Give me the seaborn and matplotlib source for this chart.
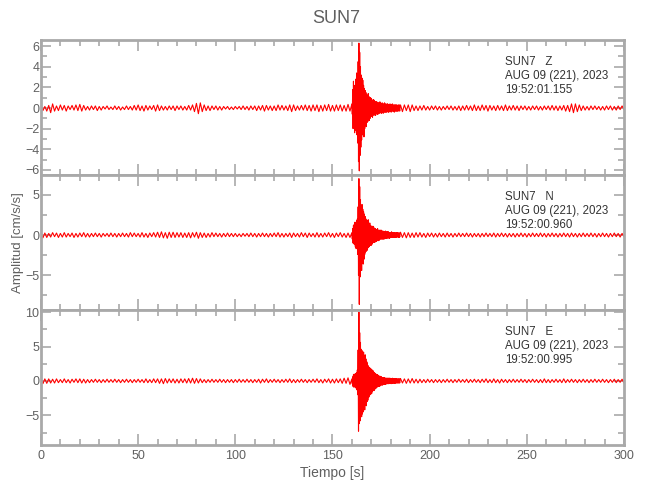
import numpy as np
import pandas as pd
import seaborn as sns
import matplotlib.pyplot as plt
from matplotlib.ticker import MultipleLocator
import matplotlib.transforms as mtransforms

# --------------------------------------------------------------------------- #
# Data: amplitudes [cm/s/s]
# quiet part sampled every 1 s, the event (160-185 s) every 0.2 s
t_pre = np.arange(0, 160, 1.0)
t_evt = np.arange(160, 185, 0.2)
t_post = np.arange(185, 301, 1.0)

z_pre = [0.2, -0.25, 0.15, -0.3, 0.25, -0.45, 0.4, -0.3, 0.2, -0.25, 0.3, -0.2, 0.25, -0.3, 0.2, -0.15, 0.25, -0.2, 0.3, -0.25,
         0.35, -0.3, 0.25, -0.2, 0.15, -0.2, 0.2, -0.15, 0.2, -0.25, 0.15, -0.2, 0.15, -0.1, 0.2, -0.15, 0.1, -0.15, 0.2, -0.15,
         0.15, -0.2, 0.1, -0.15, 0.2, -0.15, 0.15, -0.2, 0.25, -0.2, 0.3, -0.25, 0.2, -0.3, 0.25, -0.2, 0.2, -0.15, 0.25, -0.3,
         0.3, -0.25, 0.2, -0.2, 0.15, -0.2, 0.2, -0.15, 0.2, -0.25, 0.2, -0.15, 0.2, -0.2, 0.15, -0.2, 0.25, -0.2, 0.3, -0.35,
         0.45, -0.55, 0.5, -0.35, 0.3, -0.25, 0.2, -0.25, 0.2, -0.15, 0.2, -0.2, 0.15, -0.2, 0.15, -0.1, 0.15, -0.15, 0.1, -0.15,
         0.15, -0.1, 0.15, -0.15, 0.2, -0.15, 0.15, -0.2, 0.2, -0.15, 0.2, -0.25, 0.2, -0.2, 0.25, -0.3, 0.25, -0.2, 0.2, -0.25,
         0.2, -0.25, 0.3, -0.2, 0.25, -0.2, 0.2, -0.25, 0.3, -0.35, 0.3, -0.25, 0.2, -0.2, 0.25, -0.2, 0.3, -0.25, 0.25, -0.3,
         0.3, -0.25, 0.3, -0.35, 0.25, -0.3, 0.3, -0.25, 0.35, -0.3, 0.25, -0.3, 0.3, -0.25, 0.3, -0.3, 0.25, -0.3, 0.35, -0.3]
z_evt = [0.4, -0.6, 1.8, -2.0, 2.6, -1.8, 2.2, -2.4, 1.6, -2.0, 2.8, -2.2, 3.4, -2.6, 3.0,
         -3.4, 4.5, -5.2, 6.3, -6.1, 5.4, -4.6, 4.0, -3.8, 3.2, -3.1, 2.9, -2.6, 2.7, -2.4,
         2.2, -2.8, 1.9, -2.0, 1.7, -1.6, 1.5, -1.8, 1.3, -1.4, 1.2, -1.3, 1.4, -1.0, 1.1,
         -1.2, 0.9, -1.0, 1.0, -0.8, 0.9, -0.8, 0.7, -0.9, 0.8, -0.7, 0.8, -0.6, 0.7, -0.7,
         0.6, -0.7, 0.6, -0.5, 0.6, -0.6, 0.5, -0.6, 0.5, -0.5, 0.5, -0.5, 0.6, -0.4, 0.5,
         -0.5, 0.4, -0.5, 0.5, -0.4, 0.4, -0.5, 0.4, -0.4, 0.5, -0.4, 0.4, -0.4, 0.3, -0.4,
         0.4, -0.3, 0.4, -0.4, 0.3, -0.4, 0.3, -0.3, 0.4, -0.3, 0.3, -0.4, 0.3, -0.3, 0.4,
         -0.3, 0.3, -0.3, 0.3, -0.4, 0.3, -0.3, 0.3, -0.3, 0.3, -0.3, 0.3, -0.3, 0.25, -0.3,
         0.3, -0.25, 0.3, -0.3, 0.25]
z_post = [0.3, -0.35, 0.3, -0.25, 0.3, -0.35, 0.3, -0.25, 0.2, -0.25, 0.2, -0.2, 0.25, -0.2, 0.15, -0.2, 0.2, -0.15, 0.2, -0.2,
          0.15, -0.2, 0.15, -0.15, 0.2, -0.15, 0.2, -0.2, 0.15, -0.2, 0.2, -0.25, 0.2, -0.2, 0.25, -0.2, 0.2, -0.25, 0.3, -0.25,
          0.2, -0.25, 0.3, -0.2, 0.25, -0.3, 0.25, -0.2, 0.2, -0.25, 0.25, -0.2, 0.2, -0.25, 0.3, -0.25, 0.2, -0.2, 0.25, -0.2,
          0.2, -0.25, 0.2, -0.15, 0.2, -0.2, 0.15, -0.2, 0.2, -0.15, 0.2, -0.2, 0.15, -0.2, 0.2, -0.15, 0.2, -0.2, 0.25, -0.2,
          0.2, -0.25, 0.2, -0.2, 0.25, -0.3, 0.25, -0.35, 0.4, -0.45, 0.4, -0.35, 0.3, -0.25, 0.2, -0.2, 0.15, -0.2, 0.2, -0.15,
          0.2, -0.15, 0.15, -0.2, 0.15, -0.2, 0.2, -0.15, 0.2, -0.2, 0.15, -0.2, 0.2, -0.15, 0.2, -0.15]

n_pre = [0.3, -0.35, 0.25, -0.3, 0.2, -0.25, 0.3, -0.2, 0.25, -0.3, 0.2, -0.25, 0.3, -0.25, 0.2, -0.2, 0.25, -0.3, 0.2, -0.25,
         0.25, -0.2, 0.3, -0.25, 0.2, -0.25, 0.2, -0.2, 0.25, -0.2, 0.2, -0.25, 0.2, -0.15, 0.2, -0.2, 0.25, -0.2, 0.2, -0.25,
         0.2, -0.2, 0.25, -0.2, 0.2, -0.25, 0.3, -0.2, 0.25, -0.2, 0.2, -0.25, 0.3, -0.25, 0.2, -0.3, 0.25, -0.2, 0.3, -0.25,
         0.35, -0.3, 0.4, -0.35, 0.3, -0.4, 0.35, -0.3, 0.35, -0.3, 0.3, -0.25, 0.3, -0.3, 0.25, -0.3, 0.3, -0.35, 0.3, -0.25,
         0.35, -0.4, 0.3, -0.3, 0.25, -0.3, 0.2, -0.25, 0.3, -0.2, 0.25, -0.2, 0.2, -0.25, 0.2, -0.2, 0.25, -0.2, 0.2, -0.2,
         0.2, -0.2, 0.15, -0.2, 0.2, -0.15, 0.2, -0.2, 0.25, -0.2, 0.2, -0.25, 0.2, -0.2, 0.25, -0.2, 0.2, -0.25, 0.2, -0.2,
         0.25, -0.2, 0.3, -0.25, 0.2, -0.25, 0.2, -0.2, 0.25, -0.3, 0.25, -0.2, 0.2, -0.25, 0.3, -0.2, 0.25, -0.3, 0.25, -0.2,
         0.2, -0.25, 0.3, -0.25, 0.2, -0.25, 0.25, -0.2, 0.3, -0.25, 0.2, -0.3, 0.25, -0.2, 0.3, -0.25, 0.2, -0.3, 0.25, -0.3]
n_evt = [0.3, -0.5, 0.8, -1.0, 1.2, -1.1, 1.3, -1.2, 1.6, -1.5, 1.4, -1.7, 1.8, -1.6, 2.0,
         -2.4, 3.5, -5.0, 7.0, -8.6, 6.0, -5.2, 4.4, -4.0, 3.6, -4.4, 3.8, -3.5, 3.2, -3.6,
         2.9, -3.0, 2.6, -2.4, 2.3, -2.1, 2.0, -2.0, 1.8, -1.9, 1.7, -1.6, 1.9, -1.5, 1.4,
         -1.4, 1.5, -1.3, 1.2, -1.3, 1.1, -1.2, 1.0, -1.0, 1.1, -0.9, 1.0, -0.9, 0.8, -0.9,
         0.8, -0.8, 0.7, -0.8, 0.7, -0.7, 0.8, -0.6, 0.6, -0.7, 0.6, -0.6, 0.6, -0.5, 0.6,
         -0.5, 0.6, -0.5, 0.5, -0.5, 0.5, -0.5, 0.4, -0.5, 0.4, -0.4, 0.5, -0.4, 0.4, -0.4,
         0.4, -0.4, 0.4, -0.3, 0.4, -0.4, 0.3, -0.4, 0.3, -0.3, 0.3, -0.3, 0.4, -0.3, 0.3,
         -0.3, 0.3, -0.3, 0.3, -0.3, 0.3, -0.3, 0.25, -0.3, 0.3, -0.25, 0.3, -0.25, 0.3, -0.25,
         0.25, -0.3, 0.25, -0.25, 0.3]
n_post = [0.35, -0.3, 0.3, -0.35, 0.3, -0.3, 0.25, -0.3, 0.3, -0.25, 0.3, -0.25, 0.2, -0.3, 0.25, -0.2, 0.25, -0.25, 0.2, -0.25,
          0.25, -0.2, 0.2, -0.25, 0.25, -0.2, 0.2, -0.25, 0.2, -0.2, 0.25, -0.2, 0.2, -0.2, 0.25, -0.2, 0.2, -0.25, 0.2, -0.2,
          0.2, -0.25, 0.2, -0.2, 0.25, -0.2, 0.2, -0.2, 0.25, -0.25, 0.2, -0.2, 0.25, -0.2, 0.2, -0.25, 0.2, -0.2, 0.2, -0.25,
          0.2, -0.2, 0.25, -0.2, 0.2, -0.25, 0.2, -0.2, 0.25, -0.2, 0.2, -0.2, 0.25, -0.2, 0.2, -0.25, 0.2, -0.2, 0.25, -0.2,
          0.2, -0.25, 0.2, -0.2, 0.25, -0.2, 0.2, -0.25, 0.25, -0.2, 0.2, -0.25, 0.2, -0.2, 0.25, -0.2, 0.2, -0.2, 0.25, -0.2,
          0.2, -0.25, 0.2, -0.2, 0.25, -0.2, 0.2, -0.25, 0.2, -0.2, 0.25, -0.2, 0.2, -0.25, 0.2, -0.2]

e_pre = [0.35, -0.4, 0.3, -0.35, 0.3, -0.3, 0.25, -0.3, 0.3, -0.25, 0.2, -0.25, 0.3, -0.25, 0.2, -0.3, 0.25, -0.2, 0.3, -0.25,
         0.3, -0.3, 0.25, -0.3, 0.2, -0.25, 0.2, -0.2, 0.25, -0.2, 0.2, -0.25, 0.2, -0.2, 0.25, -0.2, 0.2, -0.2, 0.25, -0.2,
         0.2, -0.25, 0.2, -0.2, 0.25, -0.2, 0.2, -0.25, 0.2, -0.2, 0.25, -0.2, 0.2, -0.25, 0.3, -0.25, 0.2, -0.25, 0.3, -0.25,
         0.3, -0.35, 0.3, -0.4, 0.35, -0.3, 0.3, -0.25, 0.3, -0.3, 0.25, -0.3, 0.3, -0.25, 0.3, -0.3, 0.35, -0.3, 0.4, -0.35,
         0.35, -0.3, 0.3, -0.25, 0.2, -0.25, 0.2, -0.2, 0.25, -0.2, 0.2, -0.2, 0.25, -0.2, 0.2, -0.25, 0.2, -0.2, 0.2, -0.25,
         0.2, -0.2, 0.25, -0.2, 0.2, -0.2, 0.25, -0.2, 0.2, -0.25, 0.2, -0.2, 0.25, -0.3, 0.25, -0.2, 0.3, -0.25, 0.2, -0.2,
         0.25, -0.2, 0.2, -0.25, 0.2, -0.2, 0.25, -0.2, 0.3, -0.25, 0.2, -0.25, 0.2, -0.2, 0.25, -0.2, 0.2, -0.25, 0.2, -0.2,
         0.25, -0.2, 0.3, -0.25, 0.2, -0.3, 0.25, -0.2, 0.3, -0.3, 0.25, -0.3, 0.3, -0.25, 0.3, -0.35, 0.4, -0.35, 0.45, -0.5]
e_evt = [0.3, -0.4, 0.6, -0.8, 0.9, -0.9, 1.0, -0.8, 0.9, -1.0, 1.1, -1.0, 1.2, -1.3, 1.6,
         -2.0, 4.5, -7.3, 10.0, -6.2, 7.0, -5.8, 5.6, -5.0, 4.6, -5.2, 4.4, -4.8, 4.0, -4.5,
         4.2, -3.8, 3.6, -4.2, 3.8, -3.4, 3.2, -3.6, 2.8, -3.0, 2.6, -2.8, 2.2, -2.4, 2.0,
         -2.2, 1.9, -2.0, 1.8, -1.9, 1.7, -1.8, 1.6, -1.5, 1.5, -1.4, 1.3, -1.4, 1.2, -1.2,
         1.1, -1.1, 1.0, -1.0, 0.9, -0.9, 0.9, -0.8, 0.8, -0.8, 0.7, -0.8, 0.7, -0.7, 0.6,
         -0.6, 0.6, -0.6, 0.5, -0.6, 0.5, -0.5, 0.5, -0.5, 0.5, -0.5, 0.4, -0.5, 0.4, -0.4,
         0.4, -0.4, 0.4, -0.4, 0.4, -0.4, 0.4, -0.35, 0.4, -0.35, 0.35, -0.4, 0.35, -0.35, 0.4,
         -0.35, 0.35, -0.3, 0.35, -0.35, 0.3, -0.35, 0.3, -0.3, 0.35, -0.3, 0.3, -0.3, 0.3, -0.3,
         0.3, -0.3, 0.3, -0.3, 0.3]
e_post = [0.35, -0.3, 0.3, -0.35, 0.3, -0.3, 0.35, -0.3, 0.25, -0.3, 0.25, -0.25, 0.2, -0.25, 0.25, -0.2, 0.2, -0.25, 0.2, -0.2,
          0.2, -0.25, 0.2, -0.2, 0.25, -0.2, 0.2, -0.25, 0.2, -0.2, 0.25, -0.2, 0.2, -0.2, 0.25, -0.25, 0.2, -0.2, 0.25, -0.2,
          0.2, -0.25, 0.25, -0.2, 0.3, -0.25, 0.2, -0.25, 0.3, -0.25, 0.2, -0.3, 0.25, -0.2, 0.2, -0.25, 0.2, -0.2, 0.25, -0.2,
          0.2, -0.2, 0.25, -0.2, 0.2, -0.25, 0.2, -0.2, 0.25, -0.2, 0.2, -0.25, 0.2, -0.25, 0.3, -0.25, 0.2, -0.25, 0.2, -0.2,
          0.25, -0.2, 0.2, -0.25, 0.3, -0.25, 0.2, -0.2, 0.25, -0.2, 0.2, -0.25, 0.2, -0.2, 0.25, -0.2, 0.2, -0.25, 0.2, -0.2,
          0.25, -0.2, 0.2, -0.2, 0.25, -0.2, 0.2, -0.25, 0.2, -0.2, 0.25, -0.25, 0.2, -0.2, 0.25, -0.3]

station = "SUN7"
components = ["Z", "N", "E"]
date_txt = "AUG 09 (221), 2023"
start_times = ["19:52:01.155", "19:52:00.960", "19:52:00.995"]
ylims = [(-6.5, 6.6), (-9.3, 7.45), (-9.3, 10.3)]
ymajor = [2, 5, 5]
yminor = [1, 2.5, 2.5]

traces = {
    "Z": (z_pre, z_evt, z_post),
    "N": (n_pre, n_evt, n_post),
    "E": (e_pre, e_evt, e_post),
}
t_all = np.concatenate([t_pre, t_evt, t_post])
frames = []
for comp in components:
    amp = np.concatenate([np.asarray(p, dtype=float) for p in traces[comp]])
    frames.append(pd.DataFrame({"t": t_all, "amp": amp, "comp": comp}))
df = pd.concat(frames, ignore_index=True)

# --------------------------------------------------------------------------- #
sns.set_style("ticks")
plt.rcParams['font.family'] = ['Liberation Sans', 'DejaVu Sans']
grey = "#a9a9a9"
txt = "#606060"

fig, axes = plt.subplots(3, 1, figsize=(6.5, 5), dpi=100, sharex=True)
fig.subplots_adjust(left=0.063, right=0.96, top=0.92, bottom=0.11, hspace=0)

for i, (ax, comp) in enumerate(zip(axes, components)):
    sns.lineplot(data=df[df.comp == comp], x="t", y="amp", ax=ax, color="red",
                 linewidth=0.8, estimator=None, sort=False)
    ax.set(xlim=(0, 300), ylim=ylims[i], xlabel="", ylabel="")
    ax.xaxis.set_major_locator(MultipleLocator(50))
    ax.xaxis.set_minor_locator(MultipleLocator(10))
    ax.yaxis.set_major_locator(MultipleLocator(ymajor[i]))
    ax.yaxis.set_minor_locator(MultipleLocator(yminor[i]))
    ax.tick_params(which="both", direction="in", top=True, right=True, color=grey,
                   labelcolor=txt, labelsize=9, width=1.2)
    ax.tick_params(which="major", length=8)
    ax.tick_params(which="minor", length=4)
    ax.tick_params(axis="y", which="major", length=7, pad=1)
    for sp in ax.spines.values():
        sp.set_color(grey)
        sp.set_linewidth(2)
    trans = mtransforms.blended_transform_factory(ax.transData, ax.transAxes)
    ax.text(239, 0.885, f"{station}   {comp}\n{date_txt}\n{start_times[i]}",
            transform=trans, va="top", ha="left", fontsize=8.3, color="#333333",
            linespacing=1.25)

axes[-1].set_xlabel("Tiempo [s]", color=txt, fontsize=10, labelpad=3)
fig.suptitle(station, x=0.518, y=0.98, color=txt, fontsize=13)
fig.text(0.027, 0.514, "Amplitud [cm/s/s]", rotation=90, va="center", ha="center",
         color=txt, fontsize=9.5)

plt.savefig("out.png", dpi=100)
